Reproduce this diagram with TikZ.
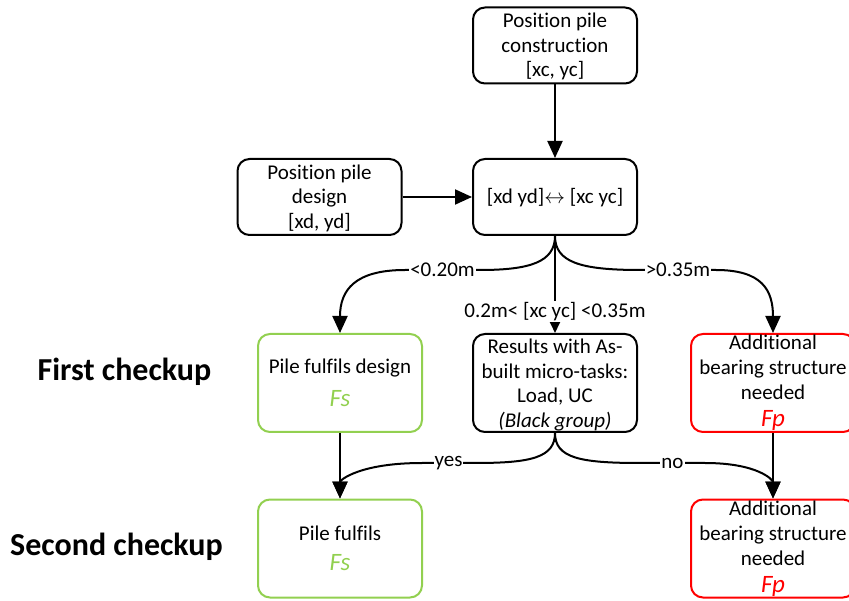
\documentclass[tikz,border=0pt]{standalone}
\usepackage{fontspec}
\setmainfont[Ligatures=NoCommon]{Carlito}
\usetikzlibrary{arrows.meta}
\definecolor{okgreen}{RGB}{146,208,80}
\definecolor{badred}{RGB}{255,0,0}
% invisible struts that fix where the first and last baselines sit in a box
\newcommand\bxtop[1]{\rule{0pt}{#1}}
\newcommand\bxbot[1]{\rule[-#1]{0pt}{#1}}
\newcommand\okmark[1]{{\fontsize{25}{30}\selectfont\color{okgreen}\itshape #1}}
\newcommand\badmark[1]{{\fontsize{25}{30}\selectfont\color{badred}\itshape #1}}
\begin{document}
\begin{tikzpicture}[x=1pt,y=-1pt,
  box/.style={draw, line width=2pt, rounded corners=12pt, minimum width=164pt,
    align=center, inner sep=0pt, font=\fontsize{21}{24.5}\selectfont},
  smallbox/.style={box, minimum height=76pt},
  tallbox/.style={box, minimum height=98pt},
  okbox/.style={tallbox, draw=okgreen},
  badbox/.style={tallbox, draw=badred, font=\fontsize{21}{25}\selectfont},
  flow/.style={line width=2pt, -{Triangle[length=17pt,width=15pt]}},
  smallflow/.style={line width=2pt, -{Triangle[length=11pt,width=10pt]}},
  lbl/.style={fill=white, inner sep=1pt, font=\fontsize{21}{26}\selectfont},
  heading/.style={font=\fontsize{32}{38}\bfseries\selectfont}]
\useasboundingbox (0,0) rectangle (849,601);
\clip (0,0) rectangle (849,601);

% input positions and comparison
\node[smallbox] (pc) at (555,45.5)
  {\bxtop{20.5pt}Position pile\\construction\\{[xc, yc]}\bxbot{6.5pt}};
\node[smallbox] (pd) at (319.5,197)
  {\bxtop{20.5pt}Position pile\\design\\{[xd, yd]}\bxbot{6.5pt}};
\node[smallbox] (cmp) at (555,197)
  {\bxtop{20pt}[xd yd]$\leftrightarrow$ [xc yc]\bxbot{6pt}};

% first checkup
\node[heading] (first) at (124.5,372) {First checkup};
\node[okbox] (g1) at (340,383)
  {\bxtop{22pt}Pile fulfils design\\[8.5pt]\okmark{Fs}\bxbot{8pt}};
\node[tallbox] (mid) at (555,383)
  {\bxtop{19pt}Results with As-\\built micro-tasks:\\Load, UC\\\textit{(Black group)}};
\node[badbox] (r1) at (773,383)
  {Additional\\bearing structure\\needed\\[2pt]\badmark{Fp}};

% second checkup
\node[heading] (second) at (116.5,547) {Second checkup};
\node[okbox] (g2) at (340,548.5)
  {\bxtop{22pt}Pile fulfils\\[5.5pt]\okmark{Fs}\bxbot{8pt}};
\node[badbox] (r2) at (773,548.5)
  {Additional\\bearing structure\\needed\\[2pt]\badmark{Fp}};

% connectors
\draw[flow] (pc) -- (cmp);
\draw[flow] (pd) -- (cmp);

\draw[flow] (cmp.south) .. controls (555,262) and (530,270) .. (480,270)
  -- node[lbl] {<0.20m} (405,270) .. controls (355,270) and (340,290) .. (g1.north);
\draw[flow] (cmp.south) .. controls (555,262) and (580,270) .. (640,270)
  -- node[lbl] {>0.35m} (716,270) .. controls (762,270) and (773,290) .. (r1.north);
\draw[smallflow] (cmp.south) -- node[lbl, pos=0.78] {0.2m< [xc yc] <0.35m} (mid.north);

\draw[flow] (g1) -- (g2);
\draw[flow] (r1) -- (r2);
\draw[flow] (mid.south) .. controls (555,458) and (530,463) .. (475,463)
  -- node[lbl] {yes} (422,463) .. controls (360,463) and (340,480) .. (g2.north);
\draw[flow] (mid.south) .. controls (555,458) and (580,463) .. (640,463)
  -- node[lbl] {no} (705,463) .. controls (758,463) and (773,480) .. (r2.north);
\end{tikzpicture}
\end{document}
